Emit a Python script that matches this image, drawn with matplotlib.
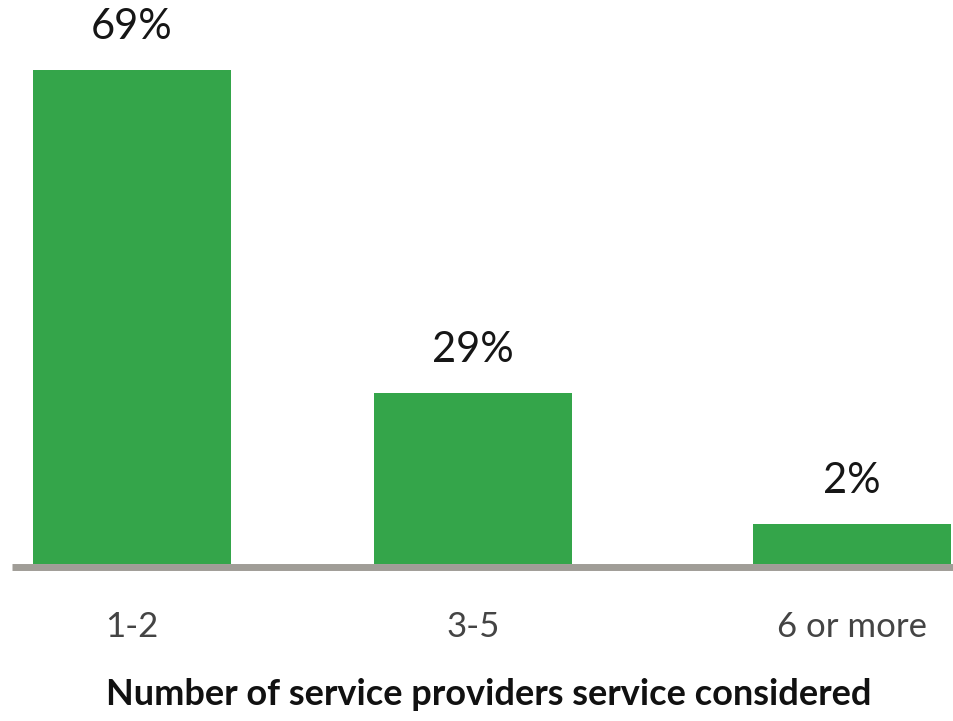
import matplotlib
matplotlib.use("Agg")
import matplotlib.pyplot as plt

# Data
categories = ["1-2", "3-5", "6 or more"]
bar_heights = [69, 23.9, 5.6]          # visual heights
value_labels = ["69%", "29%", "2%"]    # printed labels
x_title = "Number of service providers service considered"

# Layout
positions = [0, 1, 2.111]
bar_width = 0.581
green = "#34A54A"
base_gray = "#A09D97"

plt.rcParams["font.family"] = ["Lato", "DejaVu Sans"]

W, H = 954, 721
fig = plt.figure(figsize=(W / 100, H / 100), dpi=100)
base_px = 564
ax = fig.add_axes([12 / W, (H - base_px) / H, (W - 12) / W, base_px / H])

px_per_unit_x = 341.0
ax.set_xlim(-120 / px_per_unit_x, (W - 132) / px_per_unit_x)
px_per_unit_y = 494 / 69
ax.set_ylim(0, base_px / px_per_unit_y)

bars = ax.bar(positions, bar_heights, width=bar_width, color=green, zorder=2)

for b, lab in zip(bars, value_labels):
    ax.annotate(lab, (b.get_x() + b.get_width() / 2, b.get_height()),
                xytext=(0, 22.5), textcoords="offset points",
                ha="center", va="baseline", fontsize=30, color="#161616")

for s in ["top", "right", "left"]:
    ax.spines[s].set_visible(False)
ax.spines["bottom"].set_color(base_gray)
ax.spines["bottom"].set_linewidth(5.0)
ax.spines["bottom"].set_position(("outward", 2.5))
ax.spines["bottom"].set_capstyle("butt")

ax.set_yticks([])
ax.set_xticks(positions)
ax.set_xticklabels(categories, fontsize=25, color="#444444")
ax.tick_params(axis="x", length=0, pad=31)

ax.set_xlabel(x_title, fontsize=26, fontweight="bold", color="#111111")
ax.xaxis.label.set_va("top")
ax.xaxis.set_label_coords((489 - 12) / (W - 12), -(678 - base_px) / base_px)

fig.savefig("out.png", dpi=100)
